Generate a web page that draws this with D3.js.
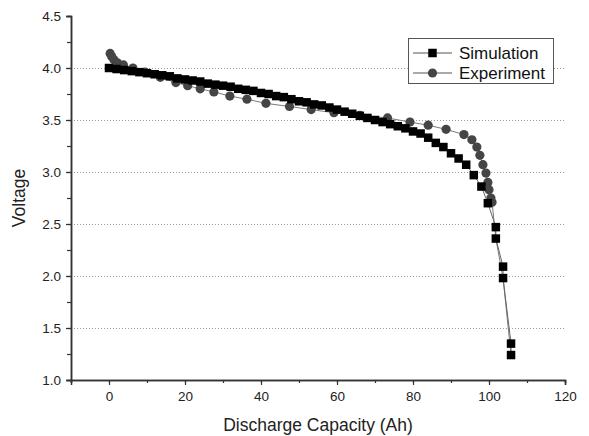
<!DOCTYPE html>
<html><head><meta charset="utf-8">
<script src="https://cdn.jsdelivr.net/npm/d3@7"></script>
<style>body{margin:0;background:#fff}svg{display:block}text{font-family:Arial,"Liberation Sans",sans-serif}</style>
</head><body>
<svg id="c" width="589" height="436"></svg>
<script>
const simX = [0,2,4,6,8,10,12,14,16,18,20,22,24,26,28,30,32,34,36,38,40,42,44,46,48,50,52,54,56,58,60,62,64,66,68,70,72,74,76,78,80,82,84,86,88,90,92,94,96,98,99.7,101.8,101.8,103.7,103.7,105.8,105.8];
const simY = [4.00,3.99,3.98,3.97,3.96,3.95,3.94,3.93,3.92,3.90,3.89,3.88,3.87,3.85,3.84,3.83,3.82,3.80,3.79,3.78,3.76,3.75,3.73,3.72,3.70,3.68,3.67,3.65,3.64,3.62,3.60,3.58,3.56,3.54,3.52,3.50,3.48,3.46,3.44,3.42,3.39,3.37,3.33,3.28,3.24,3.18,3.13,3.07,2.97,2.86,2.70,2.47,2.36,2.09,1.98,1.35,1.24];
const expX = [0.3,0.7,1.3,2.2,3.8,6.3,9.5,13.5,17.6,20.7,24,27.6,31.8,36.3,41.3,47.5,53.2,59.2,66,73.3,79.2,84,88.7,93.4,95.5,96.8,97.6,98.4,99.2,99.7,100,100.5,100.8,101.8,103.7,105.8];
const expY = [4.14,4.11,4.08,4.05,4.03,4.00,3.96,3.91,3.86,3.83,3.80,3.77,3.73,3.70,3.66,3.63,3.60,3.57,3.545,3.52,3.48,3.45,3.41,3.36,3.31,3.24,3.16,3.07,2.99,2.90,2.83,2.75,2.71,2.36,1.98,1.24];
const expMarkers = 33; // last points drawn as line only (hidden under squares)
const xTicks = [0,20,40,60,80,100,120];
const yTicks = [1.0,1.5,2.0,2.5,3.0,3.5,4.0,4.5];
const gridY = [1.5,2.0,2.5,3.0,3.5,4.0];
const seriesNames = ["Simulation","Experiment"];
const xTitle = "Discharge Capacity (Ah)";
const yTitle = "Voltage";

const svg = d3.select("#c");
const x = d3.scaleLinear().domain([-10,120]).range([71,565]);
const y = d3.scaleLinear().domain([1,4.5]).range([380,16]);

// grid
svg.append("g").selectAll("line").data(gridY).join("line")
  .attr("x1",x(-10)).attr("x2",x(120)).attr("y1",d=>y(d)).attr("y2",d=>y(d))
  .attr("stroke","#999").attr("stroke-width",1).attr("stroke-dasharray","1,2").attr("shape-rendering","crispEdges");

// axes
const axCol = "#333";
const xMinor = d3.range(-10,121,10);
const yMinor = d3.range(1,4.51,0.25);
const gx = svg.append("g").attr("transform",`translate(0,${y(1)})`);
gx.call(d3.axisBottom(x).tickValues(xMinor).tickSize(3).tickFormat(""));
gx.call(g=>g.append("g").call(d3.axisBottom(x).tickValues(xTicks).tickSize(5).tickPadding(6).tickFormat(d3.format("d"))));
const gy = svg.append("g").attr("transform",`translate(${x(-10)},0)`);
gy.call(d3.axisLeft(y).tickValues(yMinor).tickSize(4).tickFormat(""));
gy.call(g=>g.append("g").call(d3.axisLeft(y).tickValues(yTicks).tickSize(5).tickPadding(5).tickFormat(d3.format(".1f"))));
svg.selectAll(".domain").attr("stroke",axCol).attr("stroke-width",1.5);
svg.selectAll(".tick line").attr("stroke",axCol).attr("stroke-width",1.2);
svg.selectAll(".tick text").attr("fill","#222").style("font-size","13.5px").style("font-family","Arial, 'Liberation Sans', sans-serif");

// titles
svg.append("text").attr("x",(x(-10)+x(120))/2).attr("y",431).attr("text-anchor","middle")
  .attr("fill","#222").style("font-size","17.5px").text(xTitle);
svg.append("text").attr("transform",`translate(25,${(y(1)+y(4.5))/2}) rotate(-90)`).attr("text-anchor","middle")
  .attr("fill","#222").style("font-size","17.5px").text(yTitle);

const line = d3.line().x(d=>x(d[0])).y(d=>y(d[1]));
const expPts = expX.map((v,i)=>[v,expY[i]]);
const simPts = simX.map((v,i)=>[v,simY[i]]);

// experiment
svg.append("path").datum(expPts).attr("d",line).attr("fill","none").attr("stroke","#7a7a7a").attr("stroke-width",1);
svg.append("g").selectAll("circle").data(expPts.slice(0,expMarkers)).join("circle")
  .attr("cx",d=>x(d[0])).attr("cy",d=>y(d[1])).attr("r",4.6).attr("fill","#454545");
// simulation
svg.append("path").datum(simPts).attr("d",line).attr("fill","none").attr("stroke","#666").attr("stroke-width",1);
const s = 8.5;
svg.append("g").selectAll("rect").data(simPts).join("rect")
  .attr("x",d=>x(d[0])-s/2).attr("y",d=>y(d[1])-s/2).attr("width",s).attr("height",s).attr("fill","#000");

// legend
const lg = svg.append("g");
lg.append("rect").attr("x",408.5).attr("y",38.5).attr("width",145).attr("height",45)
  .attr("fill","#fff").attr("stroke","#555").attr("stroke-width",1);
seriesNames.forEach((n,i)=>{
  const yy = 53 + i*20;
  lg.append("line").attr("x1",413).attr("x2",452).attr("y1",yy).attr("y2",yy).attr("stroke","#555").attr("stroke-width",1);
  if(i===0) lg.append("rect").attr("x",432.5-s/2).attr("y",yy-s/2).attr("width",s).attr("height",s).attr("fill","#000");
  else lg.append("circle").attr("cx",432.5).attr("cy",yy).attr("r",4.6).attr("fill","#454545");
  lg.append("text").attr("x",459).attr("y",yy+6).attr("fill","#111").style("font-size","17px").text(n);
});
</script>
</body></html>
